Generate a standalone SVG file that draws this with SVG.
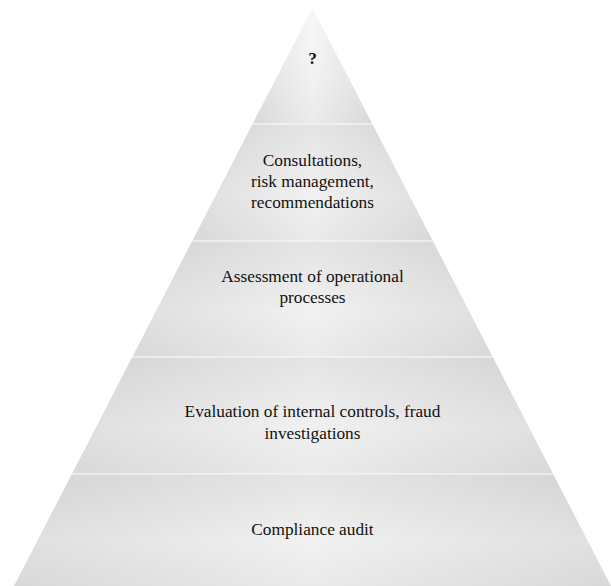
<svg xmlns="http://www.w3.org/2000/svg" width="611" height="586" viewBox="0 0 611 586">
<defs>
<linearGradient id="vg" x1="0" y1="0" x2="0" y2="1">
<stop offset="0" stop-color="#d9d9d9"/>
<stop offset="0.6" stop-color="#ebebeb"/>
<stop offset="1" stop-color="#e1e1e1"/>
</linearGradient>
<linearGradient id="vgTop" x1="0" y1="0" x2="0" y2="1">
<stop offset="0" stop-color="#f5f5f5"/>
<stop offset="0.6" stop-color="#ececec"/>
<stop offset="1" stop-color="#e2e2e2"/>
</linearGradient>
<linearGradient id="hg" x1="0" y1="0" x2="1" y2="0">
<stop offset="0" stop-color="#c4c4c4" stop-opacity="0.3"/>
<stop offset="0.5" stop-color="#ffffff" stop-opacity="0.3"/>
<stop offset="1" stop-color="#c4c4c4" stop-opacity="0.3"/>
</linearGradient>
</defs>
<style>
.band{fill:url(#vg);}
.top{fill:url(#vgTop);}
.shade{fill:url(#hg);}
.sep{stroke:#f3f3f3;stroke-width:1.6;}
.t{font-family:"Liberation Serif","Times New Roman",serif;font-size:17.3px;fill:#111;text-anchor:middle;}
.q{font-weight:bold;}
</style>
<g id="level-top">
<polygon class="top" points="312.5,8 372.4,124 252.6,124"/>
<polygon class="shade" points="312.5,8 372.4,124 252.6,124"/>
<text class="t q" x="312.5" y="64">?</text>
</g>
<g id="level-consultations">
<polygon class="band" points="252.6,124 372.4,124 432.8,241 192.2,241"/>
<polygon class="shade" points="252.6,124 372.4,124 432.8,241 192.2,241"/>
<text class="t" x="312.5" y="166">Consultations,</text>
<text class="t" x="312.5" y="187">risk management,</text>
<text class="t" x="312.5" y="208">recommendations</text>
</g>
<g id="level-assessment">
<polygon class="band" points="192.2,241 432.8,241 492.7,357 132.3,357"/>
<polygon class="shade" points="192.2,241 432.8,241 492.7,357 132.3,357"/>
<text class="t" x="312.5" y="282">Assessment of operational</text>
<text class="t" x="312.5" y="303">processes</text>
</g>
<g id="level-evaluation">
<polygon class="band" points="132.3,357 492.7,357 553.1,474 71.9,474"/>
<polygon class="shade" points="132.3,357 492.7,357 553.1,474 71.9,474"/>
<text class="t" x="312.5" y="417">Evaluation of internal controls, fraud</text>
<text class="t" x="312.5" y="439">investigations</text>
</g>
<g id="level-compliance">
<polygon class="band" points="71.9,474 553.1,474 611,586 14,586"/>
<polygon class="shade" points="71.9,474 553.1,474 611,586 14,586"/>
<text class="t" x="312.5" y="535">Compliance audit</text>
</g>
<g id="separators">
<line class="sep" x1="252.6" y1="124" x2="372.4" y2="124"/>
<line class="sep" x1="192.2" y1="241" x2="432.8" y2="241"/>
<line class="sep" x1="132.3" y1="357" x2="492.7" y2="357"/>
<line class="sep" x1="71.9" y1="474" x2="553.1" y2="474"/>
</g>
</svg>
